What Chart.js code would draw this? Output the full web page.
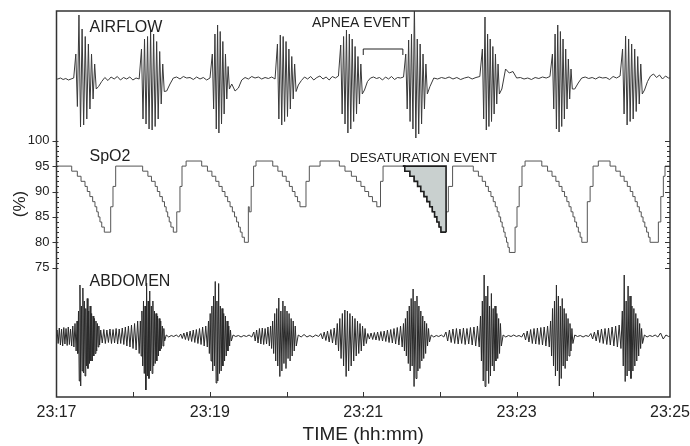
<!DOCTYPE html>
<html>
<head>
<meta charset="utf-8">
<script src="https://cdn.jsdelivr.net/npm/chart.js@4.4.1/dist/chart.umd.min.js"></script>
<style>
  html, body { margin: 0; padding: 0; background: #fff; }
  #wrap { width: 690px; height: 446px; }
</style>
</head>
<body>
<div id="wrap"><canvas id="sleepChart" width="690" height="446"></canvas></div>
<script>
// time runs in seconds from 23:17 to 23:25
const timeLabels = ['23:17', '23:19', '23:21', '23:23', '23:25'];
const spo2Ticks = [75, 80, 85, 90, 95, 100];

// airflow bursts (seconds) and the peaks read in each one
const airBurstStart = [14.5, 65.9, 121.4, 172.3, 221.8, 272.7, 332.7, 387.5, 442.3];
const airBurstEnd = [31.7, 84.9, 135.8, 188.0, 239.8, 290.7, 347.0, 404.1, 458.9];
const airBurstPeaks = [
  [0.5, -0.55, 1.28, -0.96, 1.0, -0.92, 0.85, -0.8, 0.7, -0.6, 0.5, -0.4, 0.3, -0.2],
  [0.6, -0.8, 0.8, -0.9, 0.85, -1.0, 0.98, -1.02, 0.9, -0.95, 0.75, -0.8, 0.55, -0.5, 0.3, -0.25],
  [0.5, -0.6, 0.9, -1.0, 1.08, -1.08, 0.95, -0.9, 0.75, -0.7, 0.5, -0.4, 0.25, -0.2],
  [0.7, -0.8, 0.88, -0.92, 0.85, -0.85, 0.75, -0.75, 0.6, -0.6, 0.45, -0.4, 0.3, -0.25],
  [0.68, -0.7, 0.85, -0.9, 0.98, -1.08, 0.9, -1.0, 0.8, -0.85, 0.65, -0.7, 0.45, -0.5, 0.3, -0.3],
  [0.5, -0.6, 0.78, -0.85, 0.9, -1.0, 1.5, -1.18, 0.8, -1.1, 0.7, -0.9, 0.5, -0.6, 0.3, -0.3],
  [0.6, -0.8, 1.24, -1.02, 0.9, -0.95, 0.8, -0.85, 0.65, -0.7, 0.5, -0.5, 0.3, -0.3],
  [0.5, -0.6, 0.9, -1.0, 1.08, -1.06, 0.95, -0.95, 0.8, -0.8, 0.6, -0.6, 0.4, -0.4, 0.2, -0.2],
  [0.6, -0.7, 0.86, -0.92, 0.8, -0.85, 0.7, -0.8, 0.6, -0.65, 0.45, -0.5, 0.3, -0.3]
];
// small baseline wiggle between bursts (first gap before burst 1, last after burst 9)
const airGapNoise = [
  [0.0, 0.02, -0.01, 0.01, -0.02, 0.0, 0.02],
  [-0.15, -0.05, 0.03, -0.03, 0.04, 0.0, 0.05, -0.02, 0.03, 0.0, 0.04, -0.02, 0.02, 0.0],
  [-0.24, -0.1, 0.02, 0.04, 0.0, 0.05, 0.02, 0.03, -0.01, 0.04, 0.0, 0.03, -0.02, 0.02],
  [-0.1, -0.24, -0.18, -0.02, 0.03, 0.0, 0.05, 0.02, 0.04, 0.0, 0.03, 0.01, 0.04, 0.0],
  [-0.12, -0.03, 0.04, 0.0, 0.05, -0.02, 0.03, 0.06, 0.0, 0.04, -0.02, 0.05, 0.02, 0.06],
  [-0.22, -0.05, 0.02, 0.04, 0.01, 0.03, -0.02, 0.04, 0.0, 0.05, -0.01, 0.03, 0.02, 0.04],
  [-0.15, 0.02, 0.0, 0.03, 0.01, 0.04, 0.0, 0.03, -0.01, 0.02, 0.04, 0.0, 0.03, 0.05],
  [-0.2, 0.2, 0.12, 0.15, 0.02, 0.03, 0.0, 0.02, -0.01, 0.03, 0.01, 0.04, 0.02, 0.05],
  [-0.2, -0.08, 0.02, 0.04, 0.01, 0.03, 0.0, 0.04, 0.02, 0.03, -0.01, 0.05, 0.02, 0.06],
  [-0.22, -0.05, 0.06, 0.1, 0.03, 0.08, 0.0, 0.06, 0.02]
];
const apneaStart = 240;
const apneaEnd = 271;

// SpO2 (%) as [second, value] where the value starts
const spo2Steps = [
  [0, 95],
  [11.9, 94], [16.3, 93], [19.2, 92], [22.3, 91], [24.1, 90], [26.1, 89], [28.3, 88], [30.1, 87],
  [31.5, 86], [32.7, 85], [34.0, 84], [35.4, 83], [37.4, 82],
  [42.4, 87], [44.2, 91], [46.3, 95],
  [67.4, 94], [71.5, 93], [74.3, 92], [77.2, 91], [78.9, 90], [80.8, 89], [82.8, 88], [84.5, 87],
  [85.8, 86], [87.0, 85], [88.2, 84], [89.5, 83], [91.4, 82],
  [94.1, 86], [96.6, 91], [98.2, 95], [101.4, 96],
  [113.6, 95], [118.1, 94], [121.6, 93], [124.6, 92], [127.1, 91], [129.6, 90], [131.8, 89], [133.9, 88],
  [135.8, 87], [137.6, 86], [139.3, 85], [140.9, 84], [142.4, 83], [143.8, 82], [145.2, 81], [147.0, 80],
  [150.1, 87], [150.8, 86], [152.3, 91], [154.2, 95], [156.1, 96],
  [169.2, 95], [173.2, 94], [176.7, 93], [179.7, 92], [182.2, 91], [184.5, 90], [186.6, 89], [188.6, 88], [190.5, 87],
  [195.2, 92], [197.8, 95], [206.2, 96],
  [221.3, 95], [225.7, 94], [230.7, 93], [234.7, 92], [238.2, 91], [241.2, 90], [244.2, 89], [247.2, 88], [250.6, 87],
  [253.5, 92], [255.5, 95],
  [272.5, 94], [276.5, 93], [279.8, 92], [282.5, 91], [285.0, 90], [287.5, 89], [289.8, 88], [292.0, 87],
  [294.0, 86], [295.8, 85], [297.6, 84], [299.3, 83], [300.8, 82],
  [304.8, 86], [306.6, 91], [309.9, 95],
  [326.1, 94], [330.1, 93], [333.1, 92], [335.7, 91], [337.9, 90], [339.9, 89], [341.7, 88], [343.3, 87],
  [344.8, 86], [346.2, 85], [347.5, 84], [348.7, 83], [349.9, 82], [351.0, 81], [352.1, 80], [353.2, 79], [354.3, 78],
  [358.8, 83], [360.3, 87], [362.0, 91], [364.2, 95], [366.6, 96],
  [379.7, 95], [384.2, 94], [387.7, 93], [390.7, 92], [393.2, 91], [395.5, 90], [397.5, 89], [399.3, 88],
  [401.0, 87], [402.6, 86], [404.1, 85], [405.5, 84], [406.9, 83], [408.3, 82], [409.7, 81], [411.0, 80],
  [415.3, 88], [417.5, 91], [419.8, 95], [423.9, 96],
  [433.1, 95], [437.6, 94], [441.1, 93], [444.1, 92], [446.6, 91], [448.9, 90], [450.9, 89], [452.7, 88],
  [454.4, 87], [456.0, 86], [457.5, 85], [458.9, 84], [460.3, 83], [461.7, 82], [463.1, 81], [464.4, 80],
  [470.9, 84], [472.8, 89], [474.8, 93], [476.1, 95], [480, 95]
];
const desatStart = 271;
const desatEnd = 304.8;
const desatLevel = 95;

// abdomen: contiguous segments (bounds in seconds) with the peaks read in each
const abdBounds = [0, 15.8, 34.0, 65.3, 84.9, 96.6, 118.6, 137.1, 153.8, 167.1, 188.0, 206.2, 219.2,
  242.9, 271.1, 292.2, 304.0, 331.4, 348.4, 365.0, 386.2, 404.4, 417.4, 442.3, 458.9, 480];
const abdPeaks = [
  [0.12, -0.15, 0.16, -0.18, 0.14, -0.2, 0.17, -0.16, 0.15, -0.19, 0.18, -0.17, 0.14, -0.2, 0.2, -0.22, 0.25, -0.3],
  [0.3, -0.35, 0.5, -0.9, 1.02, -1.0, 0.6, -0.7, 0.96, -0.74, 0.7, -0.8, 0.55, -0.6, 0.75, -0.65, 0.5, -0.55, 0.6, -0.5, 0.45, -0.5, 0.4, -0.4, 0.35, -0.35, 0.3, -0.3, 0.25, -0.22, 0.2, -0.18],
  [0.12, -0.14, 0.13, -0.15, 0.12, -0.13, 0.14, -0.15, 0.13, -0.14, 0.15, -0.16, 0.14, -0.15, 0.16, -0.17, 0.18, -0.2, 0.2, -0.22, 0.22, -0.25, 0.25, -0.28, 0.3, -0.35],
  [0.3, -0.4, 0.5, -0.6, 0.7, -0.75, 0.6, -1.08, 1.06, -0.8, 0.7, -0.85, 0.9, -0.7, 0.6, -0.75, 0.7, -0.6, 0.5, -0.55, 0.45, -0.5, 0.4, -0.4, 0.35, -0.3, 0.3, -0.25, 0.2, -0.2, 0.15, -0.1],
  [0.02, -0.02, 0.01, -0.01, 0.02, -0.02],
  [0.04, -0.05, 0.06, -0.07, 0.08, -0.09, 0.1, -0.11, 0.12, -0.13, 0.13, -0.15, 0.15, -0.17, 0.18, -0.2, 0.2, -0.22],
  [0.3, -0.35, 0.45, -0.5, 0.6, -0.7, 0.8, -0.6, 1.09, -0.94, 0.7, -0.9, 1.05, -0.75, 0.6, -0.7, 0.55, -0.6, 0.45, -0.5, 0.4, -0.4, 0.3, -0.3, 0.2, -0.2, 0.12, -0.1],
  [0.02, -0.01, 0.01, -0.02, 0.01, -0.01, 0.02, -0.02],
  [0.08, -0.1, 0.12, -0.14, 0.15, -0.16, 0.16, -0.17, 0.15, -0.16, 0.18, -0.2],
  [0.2, -0.25, 0.3, -0.35, 0.45, -0.5, 0.55, -0.6, 0.76, -0.81, 0.5, -0.7, 0.7, -0.55, 0.6, -0.65, 0.5, -0.45, 0.45, -0.5, 0.35, -0.4, 0.3, -0.3, 0.2, -0.2],
  [0.02, -0.02, 0.03, -0.02, 0.01, -0.02, 0.02, -0.01],
  [0.05, -0.06, 0.08, -0.09, 0.1, -0.12, 0.13, -0.14, 0.16, -0.18],
  [0.25, -0.3, 0.35, -0.45, 0.45, -0.6, 0.52, -0.81, 0.5, -0.7, 0.45, -0.6, 0.4, -0.5, 0.35, -0.4, 0.3, -0.35, 0.25, -0.3, 0.2, -0.2, 0.15, -0.15],
  [0.05, -0.06, 0.06, -0.07, 0.07, -0.08, 0.08, -0.09, 0.09, -0.1, 0.1, -0.11, 0.12, -0.13, 0.13, -0.14, 0.15, -0.16, 0.17, -0.18, 0.2, -0.22],
  [0.25, -0.3, 0.35, -0.4, 0.5, -0.55, 0.6, -0.7, 0.75, -0.6, 0.94, -1.01, 0.7, -0.85, 0.8, -0.7, 0.6, -0.65, 0.5, -0.5, 0.4, -0.45, 0.3, -0.35, 0.25, -0.2, 0.15, -0.12],
  [0.02, -0.02, 0.01, -0.01, 0.02, -0.02],
  [0.08, -0.1, 0.12, -0.13, 0.14, -0.15, 0.15, -0.16, 0.14, -0.15, 0.16, -0.17, 0.15, -0.16, 0.17, -0.18, 0.18, -0.2, 0.2, -0.22],
  [0.4, -0.5, 0.7, -0.9, 1.22, -1.01, 0.8, -0.7, 1.0, -0.95, 0.6, -0.8, 0.85, -0.6, 0.55, -0.7, 0.6, -0.5, 0.45, -0.45, 0.35, -0.35, 0.25, -0.2],
  [0.02, -0.02, 0.01, -0.01, 0.02, -0.01, 0.01, -0.02],
  [0.06, -0.08, 0.1, -0.12, 0.13, -0.15, 0.15, -0.16, 0.16, -0.17, 0.17, -0.18, 0.18, -0.2, 0.2, -0.22],
  [0.3, -0.4, 0.55, -0.6, 0.7, -0.8, 1.02, -0.7, 0.8, -1.0, 0.6, -0.85, 0.75, -0.6, 0.55, -0.65, 0.45, -0.5, 0.35, -0.4, 0.25, -0.3, 0.15, -0.15],
  [0.02, -0.01, 0.01, -0.02, 0.01, -0.01],
  [0.05, -0.06, 0.08, -0.1, 0.12, -0.13, 0.14, -0.15, 0.15, -0.17, 0.16, -0.18, 0.18, -0.2, 0.2, -0.22, 0.22, -0.25],
  [0.5, -0.6, 1.22, -0.91, 0.7, -0.8, 1.0, -0.7, 0.8, -0.85, 0.6, -0.7, 0.55, -0.6, 0.45, -0.5, 0.35, -0.4, 0.25, -0.25, 0.15, -0.15],
  [0.02, -0.02, 0.01, -0.01, 0.02, -0.02, 0.06, -0.06, 0.02, -0.01]
];

// place the read values evenly inside their segment
function spread(from, to, values) {
  const step = (to - from) / values.length;
  return values.map((v, i) => ({ x: from + (i + 0.5) * step, y: v }));
}

const airPoints = [{ x: 0, y: 0 }];
for (let i = 0; i <= airBurstStart.length; i++) {
  const gFrom = i === 0 ? 0 : airBurstEnd[i - 1];
  const gTo = i === airBurstStart.length ? 480 : airBurstStart[i];
  airPoints.push(...spread(gFrom, gTo, airGapNoise[i]));
  if (i < airBurstStart.length) airPoints.push(...spread(airBurstStart[i], airBurstEnd[i], airBurstPeaks[i]));
}
airPoints.push({ x: 480, y: 0.02 });

const abdPoints = [{ x: 0, y: 0 }];
abdPeaks.forEach((p, i) => abdPoints.push(...spread(abdBounds[i], abdBounds[i + 1], p)));
abdPoints.push({ x: 480, y: 0 });

const spo2Points = spo2Steps.map(([s, v]) => ({ x: s, y: v }));
const desatPoints = [{ x: desatStart, y: desatLevel }]
  .concat(spo2Points.filter(p => p.x > desatStart && p.x < desatEnd))
  .concat([{ x: desatEnd, y: spo2Points.filter(p => p.x < desatEnd).pop().y }]);
const desatEdge = [
  { x: desatStart, y: desatLevel }, { x: desatEnd, y: desatLevel },
  { x: desatEnd, y: desatPoints[desatPoints.length - 1].y }
];

Chart.defaults.font.family = "'Liberation Sans', Arial, sans-serif";
Chart.defaults.color = '#222';

const decor = {
  id: 'decor',
  afterDatasetsDraw(chart) {
    const { ctx, chartArea: a, scales } = chart;
    const xs = scales.x, ys = scales.y, ya = scales.yAir;
    const seg = (x1, y1, x2, y2) => { ctx.beginPath(); ctx.moveTo(x1, y1); ctx.lineTo(x2, y2); ctx.stroke(); };
    ctx.save();
    ctx.strokeStyle = '#333';
    ctx.lineWidth = 1.5;
    ctx.strokeRect(a.left, a.top, a.right - a.left, a.bottom - a.top);

    ctx.lineWidth = 1;
    for (let s = 60; s < 480; s += 60) {
      const px = Math.round(xs.getPixelForValue(s)) + 0.5;
      seg(px, a.bottom, px, a.bottom - 5);
    }
    for (let v = spo2Ticks[0]; v <= spo2Ticks[spo2Ticks.length - 1]; v++) {
      const py = Math.round(ys.getPixelForValue(v)) + 0.5;
      const major = spo2Ticks.includes(v);
      if (major) seg(a.left - 4, py, a.left + 2, py); else seg(a.left, py, a.left + 2.5, py);
      seg(a.right - (major ? 5 : 3), py, a.right, py);
    }

    // apnea bracket
    const bx1 = xs.getPixelForValue(apneaStart), bx2 = xs.getPixelForValue(apneaEnd);
    const by = ya.getPixelForValue(0.6), byEnd = ya.getPixelForValue(0.48);
    ctx.strokeStyle = '#222';
    ctx.beginPath();
    ctx.moveTo(bx1, byEnd); ctx.lineTo(bx1, by); ctx.lineTo(bx2, by); ctx.lineTo(bx2, byEnd);
    ctx.stroke();

    ctx.fillStyle = '#222';
    ctx.textBaseline = 'alphabetic';
    ctx.font = "16px 'Liberation Sans', Arial, sans-serif";
    ctx.fillText('AIRFLOW', a.left + 33, 32);
    ctx.fillText('SpO2', a.left + 33, 161);
    ctx.fillText('ABDOMEN', a.left + 33, 286);
    ctx.font = "14px 'Liberation Sans', Arial, sans-serif";
    ctx.fillText('APNEA EVENT', 312, 27);
    ctx.font = "13px 'Liberation Sans', Arial, sans-serif";
    ctx.fillText('DESATURATION EVENT', 350, 162);
    ctx.restore();
  }
};

new Chart(document.getElementById('sleepChart'), {
  type: 'line',
  data: {
    datasets: [
      { data: desatEdge, yAxisID: 'y', borderColor: '#1e1e1e', borderWidth: 1.6, pointRadius: 0, fill: false },
      { data: desatPoints, yAxisID: 'y', stepped: true, borderColor: '#1e1e1e', borderWidth: 1.6, pointRadius: 0,
        fill: { value: desatLevel }, backgroundColor: '#c9d0cf' },
      { data: spo2Points, yAxisID: 'y', stepped: true, borderColor: '#555', borderWidth: 1, pointRadius: 0, fill: false },
      { data: airPoints, yAxisID: 'yAir', borderColor: '#3a3a3a', borderWidth: 1, pointRadius: 0, fill: false, tension: 0 },
      { data: abdPoints, yAxisID: 'yAbd', borderColor: '#2a2a2a', borderWidth: 1, pointRadius: 0, fill: false, tension: 0 }
    ]
  },
  options: {
    responsive: false,
    animation: false,
    events: [],
    layout: { padding: { top: 11, right: 20, bottom: 0, left: 0 } },
    plugins: { legend: { display: false }, tooltip: { enabled: false } },
    scales: {
      x: {
        type: 'linear', min: 0, max: 480,
        grid: { display: false, drawTicks: false },
        border: { display: false },
        ticks: {
          stepSize: 60, autoSkip: false, maxRotation: 0, padding: 6,
          font: { size: 16 }, color: '#222',
          callback: v => (v % 120 === 0 ? timeLabels[v / 120] : '')
        },
        title: { display: true, text: 'TIME (hh:mm)', font: { size: 19 }, color: '#222', padding: { top: 0, bottom: 0 } },
        afterFit: s => { s.height = 49; s.paddingLeft = 0; s.paddingRight = 0; }
      },
      y: {
        type: 'linear', position: 'left', min: 49.55, max: 125.53,
        grid: { display: false, drawTicks: false },
        border: { display: false },
        afterBuildTicks: s => { s.ticks = spo2Ticks.map(v => ({ value: v })); },
        ticks: { padding: 7, font: { size: 13 }, color: '#222' },
        title: { display: true, text: '(%)', font: { size: 17 }, color: '#222', padding: { top: 10, bottom: 0 } },
        afterFit: s => { s.width = 56.5; s.paddingTop = 0; s.paddingBottom = 0; }
      },
      yAir: { type: 'linear', display: false, min: -6.36, max: 1.36 },
      yAbd: { type: 'linear', display: false, min: -1.22, max: 6.5 }
    }
  },
  plugins: [decor]
});
</script>
</body>
</html>
